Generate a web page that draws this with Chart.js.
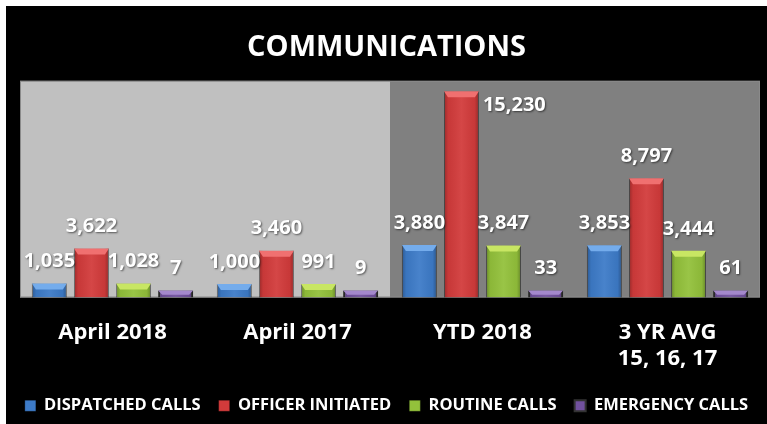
<!DOCTYPE html>
<html>
<head>
<meta charset="utf-8">
<script src="https://cdn.jsdelivr.net/npm/chart.js@4.4.1/dist/chart.umd.min.js"></script>
<style>
  html, body { margin: 0; padding: 0; background: #fff; }
  #wrap { position: absolute; left: 6px; top: 6px; width: 761px; height: 418px; background: #000; }
</style>
</head>
<body>
<div id="wrap"><canvas id="chart" width="761" height="418"></canvas></div>
<script>
// ── Data ──────────────────────────────────────────────────────────────────────
const categories  = ["April 2018", "April 2017", "YTD 2018", ["3 YR AVG", "15, 16, 17"]];
const seriesNames = ["DISPATCHED CALLS", "OFFICER INITIATED", "ROUTINE CALLS", "EMERGENCY CALLS"];
const dispatched  = [1035, 1000, 3880, 3853];
const officer     = [3622, 3460, 15230, 8797];
const routine     = [1028, 991, 3847, 3444];
const emergency   = [7, 9, 33, 61];

const FONT = "'Open Sans', 'DejaVu Sans', sans-serif";
const colors = {
  face: ["#3d7bc8", "#d23b3b", "#93c13b", "#71519e"],
  top:  ["#74acec", "#f07070", "#c8e663", "#a488cc"],
};

// ── Plugins ───────────────────────────────────────────────────────────────────
// two-tone plot background (left half light, right half dark)
const plotBg = {
  id: "plotBg",
  beforeDatasetsDraw(chart) {
    const { ctx, chartArea: a, scales: { x } } = chart;
    const split = (x.getPixelForTick(1) + x.getPixelForTick(2)) / 2;
    ctx.save();
    ctx.fillStyle = "#c0c0c0";
    ctx.fillRect(a.left, a.top, split - a.left, a.bottom - a.top);
    ctx.fillStyle = "#808080";
    ctx.fillRect(split, a.top, a.right - split, a.bottom - a.top);
    ctx.strokeStyle = "#8a8a8a";
    ctx.lineWidth = 1;
    ctx.strokeRect(a.left + 0.5, a.top + 0.5, a.right - a.left - 1, a.bottom - a.top - 1);
    ctx.restore();
  },
};

// bevel shading + value labels
const barDecor = {
  id: "barDecor",
  afterDatasetsDraw(chart) {
    const { ctx, chartArea: a } = chart;
    ctx.save();
    chart.data.datasets.forEach((ds, di) => {
      const meta = chart.getDatasetMeta(di);
      meta.data.forEach((bar, i) => {
        const { x, y, base, width } = bar.getProps(["x", "y", "base", "width"], true);
        const l = x - width / 2, r = x + width / 2, h = base - y;
        // darker sides
        const g = ctx.createLinearGradient(l, 0, r, 0);
        g.addColorStop(0, "rgba(0,0,0,0.28)");
        g.addColorStop(0.12, "rgba(0,0,0,0.05)");
        g.addColorStop(0.5, "rgba(255,255,255,0.06)");
        g.addColorStop(0.88, "rgba(0,0,0,0.05)");
        g.addColorStop(1, "rgba(0,0,0,0.3)");
        ctx.fillStyle = g;
        ctx.fillRect(l, y, width, h);
        // light top cap
        const cap = Math.min(6, h * 0.6);
        ctx.fillStyle = colors.top[di];
        ctx.beginPath();
        ctx.moveTo(l, y);
        ctx.lineTo(r, y);
        ctx.lineTo(r - 4, y + cap);
        ctx.lineTo(l + 4, y + cap);
        ctx.closePath();
        ctx.fill();
      });
    });

    ctx.font = "bold 20px " + FONT;
    ctx.fillStyle = "#ffffff";
    ctx.textBaseline = "middle";
    ctx.shadowColor = "rgba(0,0,0,0.55)";
    ctx.shadowBlur = 2;
    ctx.shadowOffsetX = 1;
    ctx.shadowOffsetY = 1;
    chart.data.datasets.forEach((ds, di) => {
      const meta = chart.getDatasetMeta(di);
      meta.data.forEach((bar, i) => {
        const { x, y, width } = bar.getProps(["x", "y", "width"], true);
        const txt = ds.data[i].toLocaleString("en-US");
        let ty = y - 22, tx = x;
        ctx.textAlign = "center";
        if (ty - 10 < a.top) {
          tx = x + width / 2 + 4;
          ty = y + 14;
          ctx.textAlign = "left";
        }
        ctx.fillText(txt, tx, ty);
      });
    });
    ctx.restore();
  },
};

// ── Chart ─────────────────────────────────────────────────────────────────────
const seriesData = [dispatched, officer, routine, emergency];

// invisible side axes just to reserve margins without narrowing the legend
const spacer = (w) => ({
  display: true,
  ticks: { display: false },
  grid: { display: false },
  border: { display: false },
  afterFit(scale) { scale.width = w; },
});

new Chart(document.getElementById("chart").getContext("2d"), {
  type: "bar",
  data: {
    labels: categories,
    datasets: seriesNames.map((name, i) => ({
      label: name,
      data: seriesData[i],
      backgroundColor: colors.face[i],
      borderColor: i === 3 ? "#333333" : "rgba(0,0,0,0.25)",
      borderWidth: i === 3 ? 2 : 1,
      minBarLength: i === 3 ? 7 : 0,
      categoryPercentage: 0.91,
      barPercentage: 0.83,
    })),
  },
  options: {
    responsive: false,
    devicePixelRatio: 1,
    animation: false,
    layout: { padding: 0 },
    plugins: {
      title: {
        display: true,
        text: "COMMUNICATIONS",
        color: "#ffffff",
        font: { family: FONT, size: 29, weight: "bold" },
        padding: { top: 24, bottom: 16 },
      },
      legend: {
        position: "bottom",
        labels: {
          color: "#ffffff",
          font: { family: FONT, size: 16.5, weight: "bold" },
          boxWidth: 11,
          boxHeight: 11,
          padding: 18,
        },
      },
      tooltip: { enabled: false },
    },
    scales: {
      x: {
        grid: { display: false },
        border: { display: false },
        ticks: {
          color: "#ffffff",
          font: { family: FONT, size: 22, weight: "bold" },
          padding: 14,
          maxRotation: 0,
        },
        afterFit(scale) { scale.height = 82; },
      },
      y: { ...spacer(14), position: "left", min: 0, max: 16000 },
      yr: { ...spacer(7), position: "right", min: 0, max: 16000 },
    },
  },
  plugins: [plotBg, barDecor],
});
</script>
</body>
</html>
